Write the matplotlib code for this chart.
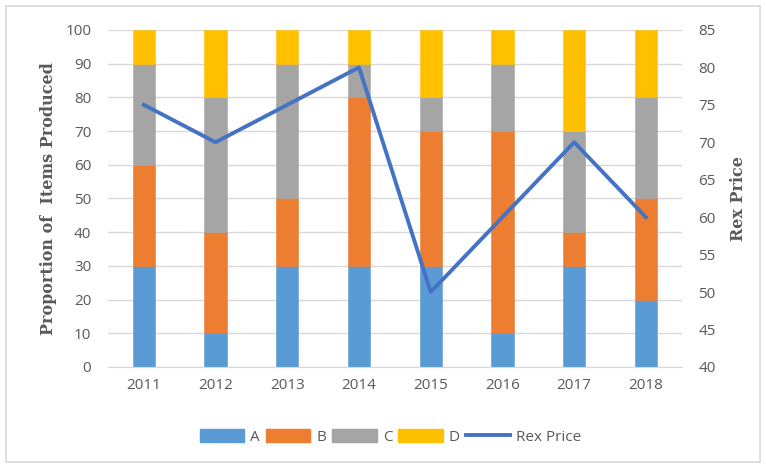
import numpy as np
import matplotlib.pyplot as plt
from matplotlib.patches import Rectangle
from matplotlib.lines import Line2D

# data
years = ['2011', '2012', '2013', '2014', '2015', '2016', '2017', '2018']
a = [30, 10, 30, 30, 30, 10, 30, 20]
b = [30, 30, 20, 50, 40, 60, 10, 30]
c = [30, 40, 40, 10, 10, 20, 30, 30]
d = [10, 20, 10, 10, 20, 10, 30, 20]
price = [75, 70, 75, 80, 50, 60, 70, 60]

cols = {'A': '#5B9BD5', 'B': '#ED7D31', 'C': '#A5A5A5', 'D': '#FFC000'}
txt = '#595959'

plt.rcParams['font.family'] = ['Open Sans', 'DejaVu Sans']

fig = plt.figure(figsize=(7.66, 4.68), dpi=100)
ax = fig.add_axes([0.141, 0.216, 0.749, 0.720])
ax.set_axisbelow(True)

x = np.arange(len(years))
bottom = np.zeros(len(years))
for name, vals in zip(['A', 'B', 'C', 'D'], [a, b, c, d]):
    ax.bar(x, vals, 0.31, bottom=bottom, color=cols[name], edgecolor=cols[name],
           lw=0.4, zorder=2)
    bottom += np.array(vals)

ax.set_xlim(-0.5, len(years) - 0.5)
ax.set_ylim(0, 100)
ax.set_yticks(range(0, 101, 10))
ax.set_xticks(x)
ax.set_xticklabels(years)
ax.grid(axis='y', color='#d9d9d9', lw=1, zorder=0)
for s in ['top', 'left', 'right']:
    ax.spines[s].set_visible(False)
ax.spines['bottom'].set_color('#d9d9d9')
ax.tick_params(length=0, colors=txt, labelsize=11, pad=8)
ax.tick_params(axis='y', pad=12)
ax.set_ylabel('Proportion of  Items Produced', family='DejaVu Serif', fontweight='bold',
              fontsize=11.5, color=txt, labelpad=6)

ax2 = ax.twinx()
ax2.plot(x, price, color='#4472C4', lw=2.8, zorder=3)
ax2.set_ylim(40, 85)
ax2.set_yticks(range(40, 86, 5))
for s in ['top', 'left', 'right', 'bottom']:
    ax2.spines[s].set_visible(False)
ax2.tick_params(length=0, colors=txt, labelsize=11, pad=12)
ax2.set_ylabel('Rex Price', family='DejaVu Serif', fontweight='bold',
               fontsize=11.5, color=txt, labelpad=10)

handles = [Rectangle((0, 0), 1, 1, color=cols[k]) for k in 'ABCD']
handles.append(Line2D([0], [0], color='#4472C4', lw=2.8))
fig.legend(handles, ['A', 'B', 'C', 'D', 'Rex Price'], loc='center',
           bbox_to_anchor=(0.51, 0.066), ncol=5, frameon=False, fontsize=11,
           labelcolor=txt, handlelength=2.9, handleheight=0.9, handletextpad=0.4,
           columnspacing=0.4)

fig.add_artist(Rectangle((0.008, 0.012), 0.984, 0.975, transform=fig.transFigure,
                         fill=False, edgecolor='#d9d9d9', lw=1.2))

fig.savefig('out.png', dpi=100)
